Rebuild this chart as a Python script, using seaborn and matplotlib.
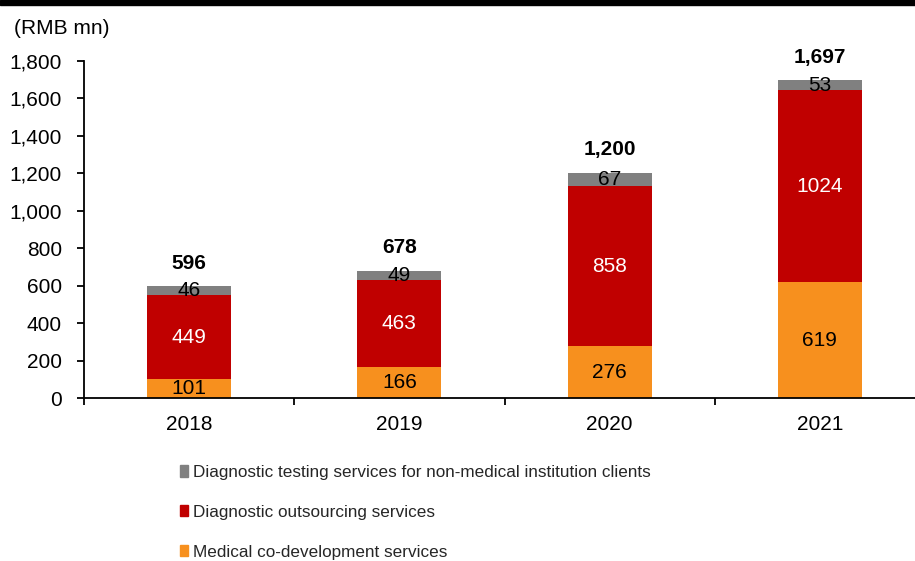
import matplotlib
matplotlib.use("Agg")
import matplotlib.pyplot as plt
import matplotlib.patches as mpatches
import seaborn as sns
import pandas as pd
import numpy as np

years = ["2018", "2019", "2020", "2021"]
co_development = [101, 166, 276, 619]
outsourcing = [449, 463, 858, 1024]
non_medical = [46, 49, 67, 53]
totals = [596, 678, 1200, 1697]

series_names = [
    "Diagnostic testing services for non-medical institution clients",
    "Diagnostic outsourcing services",
    "Medical co-development services",
]
c_orange = "#F7901E"
c_red = "#C00000"
c_gray = "#808080"

sns.set_theme(style="white")
plt.rcParams["font.family"] = ["Liberation Sans", "DejaVu Sans"]
FS = 15
LEG_FS = 12.3

df = pd.DataFrame({
    "year": years,
    "co": co_development,
    "out": outsourcing,
    "nm": non_medical,
    "total": totals,
})
df["lower_two"] = df["co"] + df["out"]
df["top"] = df["lower_two"] + df["nm"]

fig = plt.figure(figsize=(9.15, 5.61), dpi=100)
W, H = 915, 561
ax = fig.add_axes([84 / W, 1 - 398 / H, (925 - 84) / W, (398 - 61) / H])

# stacked bars drawn as overlapping cumulative layers
sns.barplot(data=df, x="year", y="top", order=years, color=c_gray,
            width=0.4, saturation=1, ax=ax, linewidth=0)
sns.barplot(data=df, x="year", y="lower_two", order=years, color=c_red,
            width=0.4, saturation=1, ax=ax, linewidth=0)
sns.barplot(data=df, x="year", y="co", order=years, color=c_orange,
            width=0.4, saturation=1, ax=ax, linewidth=0)

ax.set_xlim(-0.5, 3.5)
ax.set_ylim(0, 1800)
ax.set_yticks(np.arange(0, 1801, 200))
ax.set_yticklabels([f"{v:,}" for v in range(0, 1801, 200)], fontsize=FS)
ax.set_xticks(range(len(years)))
ax.set_xticklabels(years, fontsize=FS)
ax.tick_params(axis="x", length=0, pad=12)
ax.set_xticks([-0.5, 0.5, 1.5, 2.5], minor=True)
ax.tick_params(axis="x", which="minor", length=5, width=1.3, color="black", direction="out", bottom=True)
ax.tick_params(axis="y", length=5, width=1.3, color="black", direction="out", left=True, pad=11)
ax.set_xlabel("")
ax.set_ylabel("")
for s in ["top", "right"]:
    ax.spines[s].set_visible(False)
for s in ["left", "bottom"]:
    ax.spines[s].set_color("black")
    ax.spines[s].set_linewidth(1.3)
ax.tick_params(colors="black")

for i in range(len(years)):
    co, out, nm, tot = co_development[i], outsourcing[i], non_medical[i], totals[i]
    ax.text(i, co / 2, f"{co}", ha="center", va="center", fontsize=FS, color="black")
    ax.text(i, co + out / 2, f"{out}", ha="center", va="center", fontsize=FS, color="white")
    ax.text(i, co + out + nm / 2, f"{nm}", ha="center", va="center", fontsize=FS, color="black")
    ax.annotate(f"{tot:,}", xy=(i, co + out + nm), xytext=(0, 10), textcoords="offset points",
                ha="center", va="bottom", fontsize=FS, fontweight="bold", color="black")

fig.text(14 / W, 1 - 28 / H, "(RMB mn)", fontsize=FS, ha="left", va="center", color="black")

# black band along the top edge
fig.patches.append(mpatches.Rectangle((0, 1 - 5 / H), 1, 5 / H, transform=fig.transFigure,
                                      color="black", zorder=10))

handles = [mpatches.Patch(color=c) for c in [c_gray, c_red, c_orange]]
fig.legend(handles, series_names, loc="upper left", bbox_to_anchor=(180 / W, 1 - 465 / H),
           frameon=False, fontsize=LEG_FS, handlelength=0.47, handleheight=0.62,
           handletextpad=0.3, labelspacing=1.45, borderaxespad=0, borderpad=0)

fig.savefig("out.png", dpi=100)
